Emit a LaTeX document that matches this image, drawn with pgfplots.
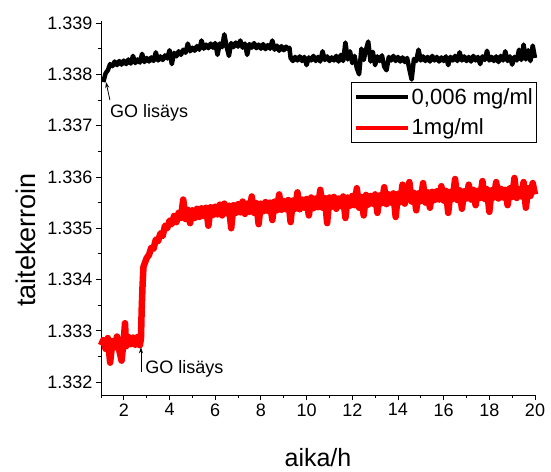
\documentclass[border=0pt]{standalone}
\usepackage{fontspec}
\setmainfont{Liberation Sans}
\usepackage{pgfplots}
\pgfplotsset{compat=1.18}
\usepackage{pgfplotstable}
\usetikzlibrary{arrows.meta}

\pgfplotstableread{
x y
1.1 1.33785
1.2 1.33802
1.3 1.33808
1.4 1.33820
1.5 1.33816
1.6 1.33825
1.7 1.33818
1.8 1.33826
1.9 1.33819
2.0 1.33827
2.1 1.33820
2.2 1.33829
2.3 1.33821
2.4 1.33836
2.5 1.33822
2.6 1.33829
2.7 1.33823
2.8 1.33840
2.9 1.33824
3.0 1.33832
3.1 1.33825
3.2 1.33833
3.3 1.33826
3.4 1.33843
3.5 1.33827
3.6 1.33835
3.7 1.33828
3.8 1.33837
3.9 1.33831
4.0 1.33847
4.1 1.33820
4.2 1.33842
4.3 1.33835
4.4 1.33845
4.5 1.33838
4.6 1.33848
4.7 1.33842
4.8 1.33860
4.9 1.33845
5.0 1.33852
5.1 1.33846
5.2 1.33855
5.3 1.33848
5.4 1.33866
5.5 1.33850
5.6 1.33858
5.7 1.33851
5.8 1.33860
5.9 1.33852
6.0 1.33861
6.1 1.33838
6.2 1.33860
6.3 1.33853
6.4 1.33878
6.5 1.33854
6.6 1.33836
6.7 1.33861
6.8 1.33853
6.9 1.33862
7.0 1.33854
7.1 1.33866
7.2 1.33852
7.3 1.33860
7.4 1.33838
7.5 1.33859
7.6 1.33852
7.7 1.33861
7.8 1.33851
7.9 1.33858
8.0 1.33850
8.1 1.33859
8.2 1.33849
8.3 1.33857
8.4 1.33850
8.5 1.33866
8.6 1.33848
8.7 1.33856
8.8 1.33846
8.9 1.33855
9.0 1.33847
9.1 1.33854
9.2 1.33849
9.25 1.33852
9.3 1.33832
9.4 1.33826
9.5 1.33834
9.6 1.33827
9.7 1.33835
9.8 1.33826
9.9 1.33834
10.0 1.33818
10.1 1.33833
10.2 1.33827
10.3 1.33836
10.4 1.33826
10.5 1.33834
10.6 1.33825
10.7 1.33845
10.8 1.33828
10.9 1.33835
11.0 1.33826
11.1 1.33833
11.2 1.33827
11.3 1.33836
11.4 1.33825
11.5 1.33838
11.6 1.33826
11.7 1.33862
11.8 1.33829
11.9 1.33845
12.0 1.33822
12.1 1.33836
12.2 1.33812
12.3 1.33800
12.4 1.33850
12.5 1.33828
12.6 1.33848
12.7 1.33864
12.8 1.33825
12.9 1.33844
13.0 1.33818
13.1 1.33835
13.2 1.33826
13.3 1.33837
13.4 1.33815
13.5 1.33808
13.6 1.33834
13.7 1.33827
13.8 1.33836
13.9 1.33826
14.0 1.33834
14.1 1.33825
14.2 1.33833
14.3 1.33824
14.4 1.33832
14.5 1.33810
14.6 1.33790
14.7 1.33830
14.8 1.33826
14.9 1.33848
15.0 1.33827
15.1 1.33835
15.2 1.33826
15.3 1.33834
15.4 1.33825
15.5 1.33836
15.6 1.33827
15.7 1.33834
15.8 1.33825
15.9 1.33833
16.0 1.33826
16.1 1.33835
16.2 1.33818
16.3 1.33834
16.4 1.33827
16.5 1.33836
16.6 1.33826
16.7 1.33843
16.8 1.33827
16.9 1.33835
17.0 1.33826
17.1 1.33834
17.2 1.33825
17.3 1.33836
17.4 1.33827
17.5 1.33834
17.6 1.33820
17.7 1.33835
17.8 1.33828
17.9 1.33846
18.0 1.33827
18.1 1.33834
18.2 1.33826
18.3 1.33835
18.4 1.33824
18.5 1.33836
18.6 1.33827
18.7 1.33845
18.8 1.33826
18.9 1.33835
19.0 1.33819
19.1 1.33834
19.2 1.33827
19.3 1.33848
19.4 1.33828
19.5 1.33858
19.6 1.33829
19.7 1.33847
19.8 1.33826
19.9 1.33856
20.0 1.33832
}\blackdata

\pgfplotstableread{
x y
1.0 1.33272
1.1 1.33282
1.2 1.33265
1.3 1.33286
1.4 1.33238
1.5 1.33280
1.6 1.33268
1.7 1.33289
1.8 1.33262
1.9 1.33242
2.0 1.33284
2.05 1.33315
2.1 1.33270
2.2 1.33288
2.3 1.33274
2.4 1.33287
2.5 1.33273
2.6 1.33288
2.7 1.33272
2.75 1.33285
2.78 1.33340
2.82 1.33390
2.86 1.33425
2.9 1.33430
3.0 1.33442
3.1 1.33448
3.2 1.33462
3.3 1.33460
3.4 1.33478
3.5 1.33475
3.6 1.33490
3.7 1.33485
3.8 1.33505
3.9 1.33500
4.0 1.33515
4.1 1.33508
4.2 1.33524
4.3 1.33512
4.4 1.33530
4.5 1.33520
4.6 1.33556
4.7 1.33518
4.8 1.33536
4.9 1.33510
5.0 1.33535
5.1 1.33520
5.2 1.33538
5.3 1.33522
5.4 1.33539
5.5 1.33524
5.6 1.33540
5.7 1.33505
5.8 1.33541
5.9 1.33526
6.0 1.33542
6.1 1.33527
6.2 1.33546
6.3 1.33525
6.4 1.33548
6.5 1.33529
6.6 1.33544
6.7 1.33500
6.8 1.33545
6.9 1.33530
7.0 1.33547
7.1 1.33531
7.2 1.33552
7.3 1.33528
7.4 1.33548
7.5 1.33532
7.6 1.33562
7.7 1.33530
7.8 1.33549
7.9 1.33508
8.0 1.33548
8.1 1.33533
8.2 1.33551
8.3 1.33534
8.4 1.33550
8.5 1.33516
8.6 1.33552
8.7 1.33535
8.8 1.33566
8.9 1.33536
9.0 1.33553
9.1 1.33537
9.2 1.33555
9.3 1.33512
9.4 1.33554
9.5 1.33538
9.6 1.33570
9.7 1.33537
9.8 1.33556
9.9 1.33540
10.0 1.33557
10.1 1.33525
10.2 1.33560
10.3 1.33539
10.4 1.33558
10.5 1.33541
10.6 1.33575
10.7 1.33540
10.8 1.33559
10.9 1.33510
11.0 1.33560
11.1 1.33542
11.2 1.33561
11.3 1.33538
11.4 1.33558
11.5 1.33543
11.6 1.33562
11.7 1.33520
11.8 1.33560
11.9 1.33544
12.0 1.33563
12.1 1.33545
12.2 1.33578
12.3 1.33540
12.4 1.33561
12.5 1.33525
12.6 1.33565
12.7 1.33546
12.8 1.33563
12.9 1.33548
13.0 1.33566
13.1 1.33530
13.2 1.33564
13.3 1.33549
13.4 1.33580
13.5 1.33547
13.6 1.33566
13.7 1.33550
13.8 1.33568
13.9 1.33522
14.0 1.33567
14.1 1.33551
14.2 1.33585
14.3 1.33548
14.4 1.33570
14.5 1.33590
14.6 1.33552
14.7 1.33569
14.8 1.33535
14.9 1.33568
15.0 1.33553
15.1 1.33588
15.2 1.33550
15.3 1.33570
15.4 1.33540
15.5 1.33571
15.6 1.33555
15.7 1.33572
15.8 1.33556
15.9 1.33582
16.0 1.33554
16.1 1.33573
16.2 1.33530
16.3 1.33571
16.4 1.33557
16.5 1.33596
16.6 1.33555
16.7 1.33574
16.8 1.33538
16.9 1.33572
17.0 1.33558
17.1 1.33585
17.2 1.33556
17.3 1.33575
17.4 1.33545
17.5 1.33573
17.6 1.33559
17.7 1.33592
17.8 1.33557
17.9 1.33576
18.0 1.33532
18.1 1.33574
18.2 1.33560
18.3 1.33590
18.4 1.33558
18.5 1.33577
18.6 1.33560
18.7 1.33575
18.8 1.33545
18.9 1.33578
19.0 1.33561
19.1 1.33598
19.2 1.33559
19.3 1.33576
19.4 1.33562
19.5 1.33590
19.6 1.33540
19.7 1.33578
19.8 1.33563
19.9 1.33588
20.0 1.33566
}\reddata

\begin{document}
\begin{tikzpicture}
\begin{axis}[
  scale only axis,
  width=434pt, height=374pt,
  xmin=1, xmax=20,
  ymin=1.33175, ymax=1.33904,
  axis x line*=bottom, axis y line*=left,
  axis line style={-, line width=0.9pt, black},
  tick align=outside,
  major tick length=5pt, minor tick length=3pt,
  tick style={black, line width=0.9pt},
  xtick={2,4,...,20},
  minor xtick={1,3,...,19},
  ytick={1.332,1.333,1.334,1.335,1.336,1.337,1.338,1.339},
  minor ytick={1.3325,1.3335,1.3345,1.3355,1.3365,1.3375,1.3385},
  scaled y ticks=false,
  yticklabel style={/pgf/number format/.cd, fixed, fixed zerofill, precision=3, assume math mode=true},
  xticklabel style={/pgf/number format/assume math mode=true},
  ticklabel style={font=\fontsize{18}{20}\selectfont},
  xlabel={aika/h},
  ylabel={taitekerroin},
  xlabel style={font=\fontsize{25}{28}\selectfont, at={(axis description cs:0.5,-0.1925)}, anchor=base},
  ylabel style={font=\fontsize{27}{30}\selectfont, at={(axis description cs:-0.173,0.414)}, anchor=center},
  legend style={at={(rel axis cs:1.005,0.837)}, anchor=north east, draw=black, line width=0.8pt,
    font=\fontsize{22}{24}\selectfont, fill=white, inner xsep=2pt, inner ysep=4pt,
    row sep=9pt, cells={anchor=west}},
  legend image code/.code={\draw[#1, line width=4pt] (0pt,0pt) -- (52pt,0pt);},
  clip=false,
]
\addplot[black, line width=4.5pt, line join=round] table[x=x,y=y] {\blackdata};
\addlegendentry{0,006 mg/ml}
\addplot[red, line width=6.5pt, line join=round] table[x=x,y=y] {\reddata};
\addlegendentry{1mg/ml}

\draw[-{Stealth[length=6pt,width=4pt]}, line width=0.8pt] (axis cs:1.39,1.33750) -- (axis cs:1.22,1.33785);
\node[anchor=west, font=\fontsize{18}{20}\selectfont, inner sep=0pt] at (axis cs:1.39,1.337244) {GO lisäys};
\draw[-{Stealth[length=6pt,width=4pt]}, line width=0.8pt] (axis cs:2.75,1.33220) -- (axis cs:2.75,1.33268);
\node[anchor=west, font=\fontsize{18}{20}\selectfont, inner sep=0pt] at (axis cs:2.93,1.332253) {GO lisäys};

\coordinate (LL) at (rel axis cs:0,0);
\coordinate (UR) at (rel axis cs:1,1);
\end{axis}
\path (LL) ++(-101pt,-76pt);
\path (UR) ++(16pt,21pt);
\end{tikzpicture}
\end{document}
